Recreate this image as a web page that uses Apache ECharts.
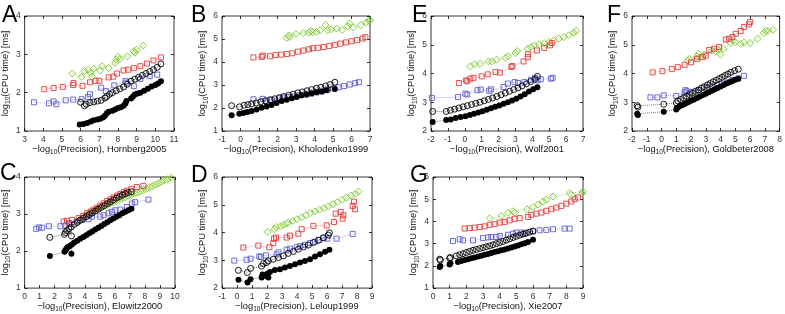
<!DOCTYPE html>
<html>
<head>
<meta charset="utf-8">
<script src="https://cdn.jsdelivr.net/npm/echarts@6/dist/echarts.min.js"></script>
<style>
  html, body { margin: 0; padding: 0; background: #fff; }
  #chart { width: 785px; height: 314px; }
</style>
</head>
<body>
<div id="chart"></div>
<script>
// data: [x, y] pairs, x = -log10(precision), y = log10(cpu time)
// A  Hornberg2005
var A_fill = [[5.95,1.17],[6.15,1.18],[6.35,1.21],[6.55,1.25],[6.7,1.28],[6.9,1.3],[7.05,1.32],[7.2,1.35],[7.3,1.4],[7.4,1.46],[7.5,1.5],[7.7,1.53],[7.85,1.56],[8.0,1.6],[8.15,1.62],[8.3,1.66],[8.4,1.72],[8.45,1.78],[8.7,1.85],[8.8,1.9],[8.9,1.95],[9.05,1.98],[9.2,2.0],[9.4,2.05],[9.6,2.1],[9.8,2.16],[10.0,2.2],[10.15,2.24],[10.3,2.3]];
var A_open = [[6.0,1.75],[6.2,1.66],[6.3,1.7],[6.5,1.74],[6.7,1.76],[6.9,1.78],[7.1,1.8],[7.3,1.86],[7.4,1.9],[7.55,1.96],[7.7,2.0],[7.9,2.05],[8.1,2.1],[8.3,2.15],[8.5,2.22],[8.7,2.3],[8.9,2.35],[9.1,2.4],[9.3,2.45],[9.5,2.5],[9.7,2.55],[9.9,2.6],[10.1,2.66],[10.3,2.75]];
var A_blue = [[3.5,1.75],[4.3,1.72],[4.55,1.77],[4.7,1.7],[5.2,1.8],[5.6,1.82],[6.05,1.83],[6.4,1.89],[6.5,1.96],[7.1,2.13],[7.35,2.04],[7.8,2.19],[8.4,2.3],[8.45,2.26],[8.85,2.17],[9.2,2.36],[9.7,2.43],[10.1,2.47]];
var A_red = [[4.05,2.09],[4.55,2.12],[5.05,2.15],[5.6,2.2],[5.62,2.25],[6.1,2.18],[6.5,2.27],[6.8,2.31],[7.0,2.31],[7.5,2.4],[7.75,2.42],[7.95,2.5],[8.3,2.58],[8.55,2.6],[8.85,2.64],[9.2,2.69],[9.55,2.76],[9.9,2.84],[10.3,2.92]];
var A_green = [[5.55,2.5],[6.05,2.41],[6.2,2.56],[6.4,2.6],[6.55,2.51],[6.6,2.42],[6.7,2.62],[7.05,2.58],[7.15,2.69],[7.5,2.64],[7.85,2.78],[7.9,2.86],[8.0,2.93],[8.1,2.88],[8.5,2.95],[8.9,3.04],[8.85,3.08],[9.0,3.12],[9.35,3.23]];

// B  Kholodenko1999
var B_fill = [[-0.48,1.68],[-0.06,1.75],[0.15,1.78],[0.37,1.83],[0.6,1.87],[0.87,1.93],[1.14,2.01],[1.41,2.07],[1.68,2.13],[1.95,2.22],[2.23,2.3],[2.5,2.36],[2.77,2.42],[3.04,2.48],[3.3,2.55],[3.58,2.59],[3.85,2.64],[4.12,2.68],[4.39,2.72],[4.66,2.77],[5.1,2.83]];
var B_open = [[-0.48,2.1],[-0.05,2.05],[0.2,2.12],[0.4,2.15],[0.6,2.18],[0.85,2.22],[1.1,2.27],[1.35,2.32],[1.6,2.36],[1.85,2.4],[2.1,2.45],[2.35,2.5],[2.6,2.55],[2.85,2.6],[3.1,2.66],[3.35,2.7],[3.6,2.75],[3.85,2.8],[4.1,2.86],[4.35,2.9],[4.6,2.96],[4.85,3.02],[5.1,3.12]];
var B_blue = [[0.7,2.38],[1.2,2.4],[1.4,2.3],[1.7,2.35],[2.1,2.42],[2.3,2.45],[2.6,2.48],[2.9,2.5],[3.2,2.55],[3.5,2.58],[3.8,2.62],[4.1,2.68],[4.4,2.72],[4.7,2.8],[5.0,2.85],[5.3,2.9],[5.6,2.95],[5.9,3.02],[6.2,3.08],[6.4,3.12]];
var B_red = [[0.7,4.2],[1.15,4.22],[1.2,4.28],[1.6,4.25],[1.9,4.3],[2.2,4.32],[2.5,4.35],[2.8,4.38],[3.1,4.45],[3.4,4.5],[3.7,4.55],[3.9,4.6],[4.2,4.62],[4.5,4.65],[4.8,4.7],[5.1,4.75],[5.4,4.8],[5.7,4.85],[6.0,4.9],[6.3,4.95],[6.6,5.02],[6.75,5.08]];
var B_green = [[2.5,5.05],[2.6,5.15],[2.65,5.08],[3.0,5.22],[3.4,5.25],[3.7,5.28],[3.8,5.35],[3.9,5.3],[4.1,5.3],[4.3,5.38],[4.6,5.6],[4.7,5.38],[4.9,5.42],[5.2,5.45],[5.5,5.4],[5.8,5.55],[5.9,5.68],[6.1,5.5],[6.5,5.6],[6.8,5.72],[6.95,5.78],[7.0,5.82]];

// E  Wolf2001
var E_fill = [[-1.9,2.31],[-1.1,2.38],[-0.83,2.4],[-0.54,2.45],[-0.25,2.49],[0.04,2.51],[0.3,2.56],[0.55,2.6],[0.8,2.64],[1.05,2.69],[1.3,2.74],[1.55,2.79],[1.8,2.84],[2.05,2.89],[2.3,2.95],[2.55,3.0],[2.8,3.06],[3.05,3.12],[3.3,3.2],[3.55,3.28],[3.8,3.37],[4.05,3.45],[4.3,3.52]];
var E_open = [[-1.9,2.68],[-1.1,2.68],[-0.85,2.72],[-0.6,2.76],[-0.35,2.8],[-0.1,2.84],[0.15,2.88],[0.4,2.92],[0.65,2.96],[0.9,3.0],[1.15,3.05],[1.4,3.1],[1.65,3.15],[1.9,3.2],[2.15,3.26],[2.4,3.32],[2.65,3.38],[2.9,3.44],[3.15,3.5],[3.4,3.57],[3.65,3.64],[3.9,3.72],[4.15,3.8],[4.3,3.9]];
var E_blue = [[-1.95,3.15],[-0.4,3.18],[0.04,3.3],[0.15,3.27],[0.75,3.42],[0.95,3.44],[1.45,3.4],[1.55,3.45],[2.3,3.53],[2.56,3.65],[2.95,3.7],[3.15,3.67],[3.53,3.7],[3.92,3.78],[4.16,3.85],[4.31,3.76],[4.5,3.8],[5.1,3.82],[5.2,3.85]];
var E_red = [[-0.35,3.67],[0.08,3.76],[0.15,3.73],[0.33,3.82],[0.52,3.85],[1.0,3.9],[1.36,3.97],[1.82,4.05],[2.08,4.03],[2.76,4.23],[2.82,4.26],[3.48,4.42],[3.73,4.57],[3.75,4.67],[4.27,4.8],[4.7,4.89],[5.05,4.98],[5.15,5.06]];
var E_green = [[0.33,4.25],[0.58,4.32],[0.91,4.34],[1.4,4.42],[1.6,4.42],[1.88,4.48],[2.41,4.55],[2.56,4.6],[3.0,4.71],[3.1,4.78],[3.73,4.86],[3.92,4.92],[4.12,4.98],[4.4,5.02],[4.7,5.06],[5.0,5.1],[5.28,5.15],[5.57,5.21],[5.86,5.27],[6.15,5.33],[6.45,5.42],[6.6,5.48]];

// F  Goldbeter2008
var F_fill = [[-1.65,2.6],[-1.6,2.56],[0.15,2.67],[1.0,2.75],[1.05,2.8],[1.2,2.85],[1.4,2.9],[1.6,2.95],[1.8,3.0],[2.0,3.05],[2.2,3.1],[2.4,3.15],[2.6,3.2],[2.8,3.25],[3.0,3.3],[3.2,3.35],[3.4,3.4],[3.6,3.45],[3.8,3.5],[4.0,3.55],[4.2,3.6],[4.4,3.65],[4.6,3.7],[4.8,3.74],[5.0,3.78],[5.2,3.82]];
var F_open = [[-1.65,2.88],[-1.6,2.83],[0.15,2.93],[1.0,2.98],[1.1,3.05],[1.3,3.1],[1.5,3.16],[1.7,3.21],[1.9,3.27],[2.1,3.32],[2.3,3.38],[2.5,3.43],[2.7,3.49],[2.9,3.54],[3.1,3.6],[3.3,3.65],[3.5,3.71],[3.7,3.76],[3.9,3.82],[4.1,3.87],[4.3,3.93],[4.5,3.98],[4.7,4.04],[4.95,4.1],[5.2,4.15]];
var F_blue = [[-0.75,3.17],[-0.28,3.17],[0.15,3.24],[1.0,3.22],[1.56,3.34],[1.62,3.42],[1.7,3.38],[1.97,3.36],[2.53,3.42],[3.1,3.5],[3.44,3.54],[3.77,3.6],[4.1,3.64],[4.45,3.69],[4.8,3.77],[5.2,3.83],[5.58,3.92]];
var F_red = [[-0.6,4.04],[0.06,4.08],[0.7,4.16],[1.1,4.22],[1.56,4.3],[2.0,4.39],[2.4,4.51],[2.78,4.57],[3.0,4.62],[3.23,4.82],[3.57,4.86],[3.9,4.92],[4.35,5.18],[4.58,5.21],[4.8,5.27],[5.03,5.38],[5.36,5.48],[5.58,5.62],[5.92,5.71],[6.0,5.79]];
var F_green = [[1.78,4.45],[1.89,4.51],[2.4,4.59],[2.5,4.68],[2.6,4.56],[2.9,4.66],[3.44,4.8],[3.66,4.78],[3.85,4.83],[4.0,4.66],[4.2,4.86],[4.69,5.06],[4.8,5.15],[5.0,5.09],[5.36,5.03],[5.58,5.08],[6.0,5.06],[6.5,5.21],[6.93,5.41],[7.05,5.48],[7.2,5.48],[7.55,5.52]];

// C  Elowitz2000
var C_fill = [[1.68,1.87],[2.65,1.98],[2.72,2.02],[2.78,2.06],[2.85,2.1],[3.0,2.14],[3.11,1.93],[3.15,2.18],[3.3,2.23],[3.5,2.28],[3.7,2.33],[3.9,2.38],[4.1,2.43],[4.3,2.48],[4.5,2.53],[4.7,2.58],[4.9,2.63],[5.1,2.68],[5.3,2.73],[5.5,2.78],[5.7,2.83],[5.9,2.88],[6.1,2.93],[6.3,2.97],[6.5,3.02],[6.7,3.06],[6.9,3.1],[7.1,3.14]];
var C_open = [[1.68,2.37],[2.65,2.45],[2.72,2.5],[2.8,2.55],[2.95,2.6],[3.11,2.41],[3.1,2.65],[3.3,2.72],[3.5,2.77],[3.7,2.83],[3.9,2.88],[4.1,2.93],[4.3,2.98],[4.5,3.03],[4.7,3.08],[4.9,3.13],[5.1,3.18],[5.3,3.23],[5.5,3.28],[5.7,3.33],[5.9,3.38],[6.1,3.43],[6.3,3.47],[6.5,3.51],[6.7,3.55],[6.9,3.58],[7.1,3.6]];
var C_blue = [[0.77,2.6],[0.95,2.64],[1.17,2.63],[1.61,2.67],[2.38,2.67],[2.72,2.69],[3.0,2.74],[3.49,2.8],[3.82,2.84],[4.26,2.86],[4.48,2.93],[5.03,2.93],[5.25,2.97],[5.58,3.02],[5.81,3.06],[6.03,3.1],[6.36,3.12],[6.8,3.19],[7.13,3.28],[7.35,3.32],[8.23,3.39]];
var C_red = [[2.6,2.8],[2.82,2.82],[2.95,2.76],[3.16,2.84],[3.6,2.89],[3.9,2.95],[4.15,3.02],[4.4,3.07],[4.59,3.12],[4.8,3.17],[5.03,3.23],[5.25,3.29],[5.47,3.35],[5.7,3.4],[5.92,3.45],[6.15,3.5],[6.36,3.54],[6.6,3.59],[6.8,3.63],[7.1,3.68],[7.46,3.73],[7.9,3.76]];
var C_green = [[3.5,2.82],[3.7,2.87],[3.9,2.93],[4.1,2.97],[4.3,3.02],[4.5,3.06],[4.7,3.1],[4.9,3.14],[5.1,3.18],[5.3,3.21],[5.5,3.25],[5.7,3.28],[5.9,3.32],[6.1,3.35],[6.3,3.38],[6.5,3.42],[6.7,3.45],[6.9,3.49],[7.1,3.52],[7.3,3.55],[7.5,3.58],[7.7,3.62],[7.9,3.65],[8.1,3.68],[8.3,3.72],[8.5,3.75],[8.7,3.79],[8.9,3.83],[9.1,3.87],[9.3,3.91],[9.5,3.94],[9.75,3.98]];

// D  Leloup1999
var D_fill = [[0.1,2.3],[0.7,2.2],[0.9,2.32],[1.64,2.38],[1.7,2.49],[1.93,2.44],[2.02,2.52],[2.09,2.38],[2.2,2.58],[2.53,2.65],[2.87,2.68],[3.2,2.74],[3.53,2.8],[3.87,2.86],[4.2,2.92],[4.53,2.98],[4.87,3.04],[5.2,3.14],[5.53,3.22],[5.87,3.31],[6.16,3.38]];
var D_open = [[0.09,2.64],[0.69,2.56],[0.91,2.71],[1.64,2.79],[1.76,2.88],[1.98,2.92],[2.09,2.98],[2.42,3.04],[2.76,3.1],[3.09,3.16],[3.42,3.25],[3.76,3.32],[4.09,3.4],[4.42,3.48],[4.76,3.55],[5.09,3.64],[5.42,3.72],[5.76,3.81],[6.09,3.91],[6.16,3.99]];
var D_blue = [[-0.18,2.99],[0.64,3.02],[0.91,3.06],[1.49,3.14],[1.6,3.12],[1.93,3.18],[2.64,3.22],[2.76,3.29],[3.31,3.38],[3.53,3.42],[3.98,3.47],[4.2,3.51],[4.53,3.56],[4.87,3.62],[5.2,3.67],[5.49,3.74],[5.76,3.81],[6.02,3.78],[6.64,3.78],[7.71,3.95]];
var D_red = [[0.42,3.46],[1.42,3.53],[2.16,3.47],[2.42,3.62],[2.47,3.78],[2.6,3.82],[3.31,3.82],[3.53,3.89],[4.09,3.96],[4.31,4.12],[5.09,4.24],[5.98,4.26],[6.47,4.38],[6.58,4.68],[6.91,4.74],[7.04,4.5],[7.09,4.62],[7.71,4.96],[7.8,5.11],[7.87,4.84]];
var D_green = [[2.05,4.02],[2.5,4.12],[2.6,4.2],[2.9,4.22],[3.1,4.28],[3.3,4.32],[3.4,4.36],[3.7,4.42],[4.0,4.48],[4.3,4.55],[4.6,4.62],[4.9,4.7],[5.2,4.76],[5.5,4.82],[5.8,4.88],[6.1,4.95],[6.4,5.02],[6.7,5.1],[7.0,5.18],[7.3,5.26],[7.6,5.33],[7.9,5.4],[8.1,5.48]];

// G  Xie2007
var G_fill = [[0.4,1.95],[0.44,2.0],[1.0,2.06],[1.04,2.12],[1.5,2.18],[1.7,2.22],[1.9,2.26],[2.1,2.3],[2.3,2.34],[2.5,2.38],[2.7,2.42],[2.9,2.46],[3.1,2.5],[3.3,2.54],[3.5,2.58],[3.7,2.62],[3.9,2.66],[4.1,2.7],[4.3,2.74],[4.5,2.78],[4.7,2.83],[4.9,2.87],[5.1,2.92],[5.3,2.97],[5.5,3.02],[5.7,3.07],[6.0,3.18]];
var G_open = [[0.4,2.3],[0.44,2.26],[1.0,2.34],[1.04,2.38],[1.4,2.45],[1.6,2.5],[1.8,2.55],[2.0,2.6],[2.2,2.65],[2.4,2.7],[2.6,2.74],[2.8,2.78],[3.0,2.82],[3.2,2.86],[3.4,2.9],[3.6,2.95],[3.8,3.0],[4.0,3.05],[4.2,3.1],[4.4,3.16],[4.6,3.22],[4.8,3.28],[5.0,3.33],[5.2,3.38],[5.4,3.43],[5.6,3.48],[5.8,3.52],[6.0,3.57]];
var G_blue = [[1.2,3.12],[1.6,3.2],[1.8,3.15],[2.4,3.15],[3.0,3.25],[3.3,3.28],[3.5,3.3],[3.8,3.3],[4.0,3.35],[4.5,3.4],[4.8,3.45],[5.0,3.5],[5.3,3.5],[5.5,3.45],[6.0,3.55],[6.4,3.6],[6.8,3.62],[7.2,3.65],[7.9,3.68],[8.2,3.68]];
var G_red = [[1.9,3.68],[2.2,3.7],[2.5,3.72],[2.8,3.75],[3.1,3.78],[3.4,3.85],[3.7,3.88],[4.0,3.95],[4.3,3.98],[4.6,4.05],[4.9,4.12],[5.2,4.15],[5.7,4.2],[5.9,4.3],[6.2,4.35],[6.5,4.4],[6.8,4.48],[7.1,4.55],[7.4,4.62],[7.7,4.7],[8.0,4.8],[8.3,4.9],[8.5,5.0],[8.7,5.08]];
var G_green = [[3.4,4.14],[4.1,4.25],[4.5,4.39],[4.8,4.46],[4.9,4.4],[5.64,4.54],[6.0,4.65],[6.3,4.76],[6.6,4.9],[6.8,4.98],[7.2,5.12],[8.2,5.27],[8.3,5.2],[9.0,5.34],[8.95,5.27]];

var FONT = '"Liberation Sans", Arial, Helvetica, sans-serif';

var panels = [
  {letter:'A', model:'Hornberg2005', x:[3,11], y:[1,4], g:{left:24, top:16, width:150, height:115}, lp:[2,4], series:[A_fill,A_open,A_blue,A_red,A_green]},
  {letter:'B', model:'Kholodenko1999', x:[-1,7], y:[1,6], g:{left:222, top:16, width:148, height:115}, lp:[191,4], series:[B_fill,B_open,B_blue,B_red,B_green]},
  {letter:'E', model:'Wolf2001', x:[-2,7], y:[2,6], g:{left:431, top:16, width:152, height:115}, lp:[412,4], series:[E_fill,E_open,E_blue,E_red,E_green]},
  {letter:'F', model:'Goldbeter2008', x:[-2,8], y:[2,6], g:{left:632, top:16, width:149, height:115}, lp:[607,4], series:[F_fill,F_open,F_blue,F_red,F_green]},
  {letter:'C', model:'Elowitz2000', x:[0,10], y:[1,4], g:{left:24, top:177, width:151, height:114}, lp:[0,162], series:[C_fill,C_open,C_blue,C_red,C_green]},
  {letter:'D', model:'Leloup1999', x:[-1,9], y:[2,6], g:{left:222, top:177, width:150, height:114}, lp:[191,164], series:[D_fill,D_open,D_blue,D_red,D_green]},
  {letter:'G', model:'Xie2007', x:[0,9], y:[1,6], g:{left:433, top:177, width:150, height:114}, lp:[410,164], series:[G_fill,G_open,G_blue,G_red,G_green]}
];

// marker styles: filled circle, open circle, blue square, red square, green diamond
var looks = [
  {symbol:'circle',  size:6, color:'#000000', filled:true},
  {symbol:'circle',  size:6, color:'#000000', filled:false},
  {symbol:'rect',    size:5, color:'#5c5cd0', filled:false},
  {symbol:'rect',    size:5, color:'#e23c3c', filled:false},
  {symbol:'diamond', size:7, color:'#78c828', filled:false}
];

var nameRich = {
  t: {fontSize: 9.3, fontFamily: FONT, color: '#111'},
  s: {fontSize: 6.5, fontFamily: FONT, color: '#111', padding: [6, 0, 0, 0]}
};

function axisBase(range, pos, showLabel) {
  return {
    type: 'value', position: pos,
    min: range[0], max: range[1], interval: 1,
    axisLine: {show: false, onZero: false},
    axisTick: {show: true, inside: true, length: 3, lineStyle: {color: '#000', width: 0.8}},
    axisLabel: {show: showLabel, fontSize: 8.5, fontFamily: FONT, color: '#333', margin: 4},
    splitLine: {show: false}
  };
}

var option = {
  animation: false,
  backgroundColor: '#fff',
  grid: [], xAxis: [], yAxis: [], series: [], graphic: []
};

panels.forEach(function (p, i) {
  option.grid.push(Object.assign({show: true, borderColor: '#000', borderWidth: 0.8, backgroundColor: 'transparent'}, p.g));

  var xb = axisBase(p.x, 'bottom', true);
  xb.gridIndex = i;
  xb.name = '{t|\u2212log}{s|10}{t|(Precision), ' + p.model + '}';
  xb.nameLocation = 'middle';
  xb.nameGap = 9;
  xb.nameTextStyle = {rich: nameRich};
  var xt = axisBase(p.x, 'top', false);
  xt.gridIndex = i;
  option.xAxis.push(xb, xt);

  var yl = axisBase(p.y, 'left', true);
  yl.gridIndex = i;
  yl.name = '{t|log}{s|10}{t|(CPU time) [ms]}';
  yl.nameLocation = 'middle';
  yl.nameRotate = 90;
  yl.nameGap = 11;
  yl.nameTextStyle = {rich: nameRich};
  var yr = axisBase(p.y, 'right', false);
  yr.gridIndex = i;
  option.yAxis.push(yl, yr);

  p.series.forEach(function (d, k) {
    var lk = looks[k];
    option.series.push({
      type: 'line',
      xAxisIndex: 2 * i, yAxisIndex: 2 * i,
      data: d,
      symbol: lk.symbol,
      symbolSize: lk.size,
      showAllSymbol: true,
      z: 10 - k,
      lineStyle: {type: 'dotted', width: 1, color: lk.color, opacity: 0.5},
      itemStyle: {
        color: lk.filled ? lk.color : 'rgba(0,0,0,0)',
        borderColor: lk.color,
        borderWidth: lk.filled ? 0 : 0.9
      },
      emphasis: {disabled: true}
    });
  });

  option.graphic.push({
    type: 'text', left: p.lp[0], top: p.lp[1],
    style: {text: p.letter, font: '23px ' + FONT, fill: '#000'}
  });
});

echarts.init(document.getElementById('chart'), null, {renderer: 'canvas'}).setOption(option);
</script>
</body>
</html>
